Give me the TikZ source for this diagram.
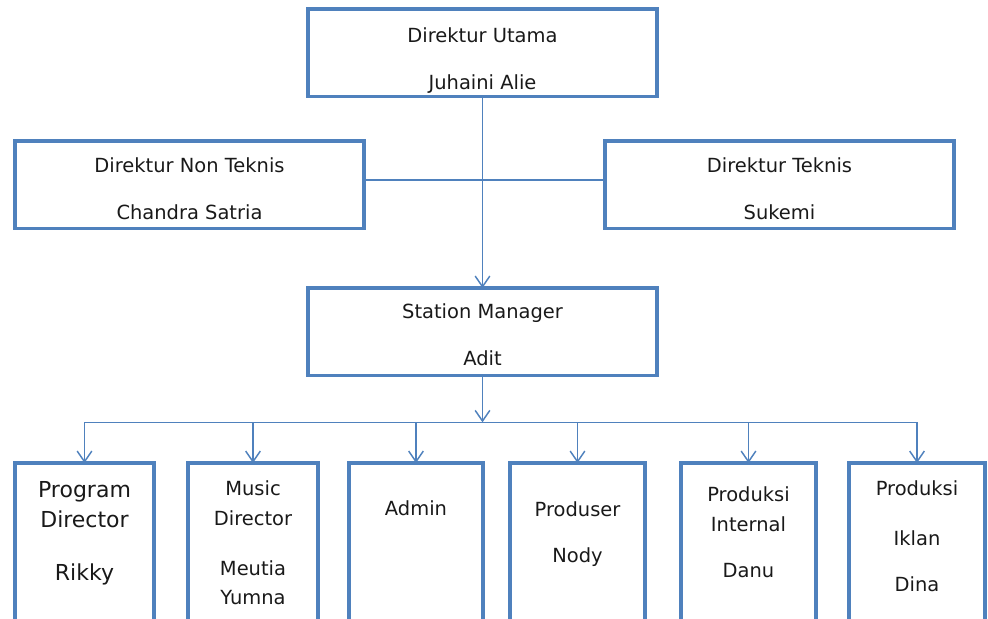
\documentclass[tikz,border=0pt]{standalone}
\usepackage{fontspec}
\setmainfont{DejaVu Sans}
\usetikzlibrary{positioning, arrows.meta}

\begin{document}
\begin{tikzpicture}[x=0.75pt, y=-0.75pt,
  frame/.style={draw=boxblue, line width=2.4pt, inner sep=0pt, outer sep=0pt, anchor=north west},
  wide/.style={frame, minimum width=261.75pt, minimum height=65.5pt},
  tall/.style={frame, minimum height=150pt},
  boxtext/.style={inner sep=0pt, align=center, text=black!90, font=\fontsize{14.6}{22}\selectfont},
  link/.style={draw=boxblue, line width=1.1pt},
  arrowlink/.style={link, -{Straight Barb[length=8pt, width=11pt]}}
]

% Define colors
\definecolor{boxblue}{RGB}{79,129,189}

% Fix the page and cut the lower boxes
\useasboundingbox (0,0) rectangle (988,618);
\clip (0,0) rectangle (988,618);

% Directors
\node[wide] (utama) at (308,9) {};
\node[boxtext, below=14pt of utama.north] (utamatxt) {Direktur Utama\\[13.25pt]Juhaini Alie};

\node[wide] (nonteknis) at (15,141) {};
\node[boxtext, below=12.5pt of nonteknis.north] (nonteknistxt) {Direktur Non Teknis\\[13.25pt]Chandra Satria};

\node[wide] (teknis) at (605,141) {};
\node[boxtext, below=12.5pt of teknis.north] (teknistxt) {Direktur Teknis\\[13.25pt]Sukemi};

% Station manager
\node[wide] (manager) at (308,288) {};
\node[boxtext, below=11.75pt of manager.north] (managertxt) {Station Manager\\[13.25pt]Adit};

% Staff boxes
\node[tall, minimum width=104.25pt] (program) at (15,463) {};
\node[boxtext, font=\fontsize{16.5}{22.5}\selectfont, below=13.75pt of program.north] (programtxt) {Program\\Director\\[17.5pt]Rikky};

\node[tall, minimum width=97.5pt] (music) at (188,463) {};
\node[boxtext, below=13.25pt of music.north] (musictxt) {Music\\Director\\[15.5pt]Meutia\\Yumna};

\node[tall, minimum width=100.5pt] (admin) at (349,463) {};
\node[boxtext, below=28.25pt of admin.north] (admintxt) {Admin};

\node[tall, minimum width=101.25pt] (produser) at (510,463) {};
\node[boxtext, below=28.75pt of produser.north] (produsertxt) {Produser\\[12.5pt]Nody};

\node[tall, minimum width=101.25pt] (internal) at (681,463) {};
\node[boxtext, below=17.75pt of internal.north] (internaltxt) {Produksi\\Internal\\[12.5pt]Danu};

\node[tall, minimum width=102pt] (iklan) at (849,463) {};
\node[boxtext, below=13.25pt of iklan.north] (iklantxt) {Produksi\\[15.5pt]Iklan\\[12.5pt]Dina};

% Connectors
\draw[arrowlink] (utama.south) -- (manager.north);
\draw[link] ([yshift=3.4pt]nonteknis.east) -- ([yshift=3.4pt]teknis.west);

\coordinate[below=35.25pt of manager.south] (bus);
\draw[arrowlink] (manager.south) -- (bus);
\draw[link] (bus -| program.north) -- (bus -| iklan.north);
\foreach \unit in {program, music, admin, produser, internal, iklan}
  \draw[arrowlink] (bus -| \unit.north) -- (\unit.north);

\end{tikzpicture}
\end{document}
